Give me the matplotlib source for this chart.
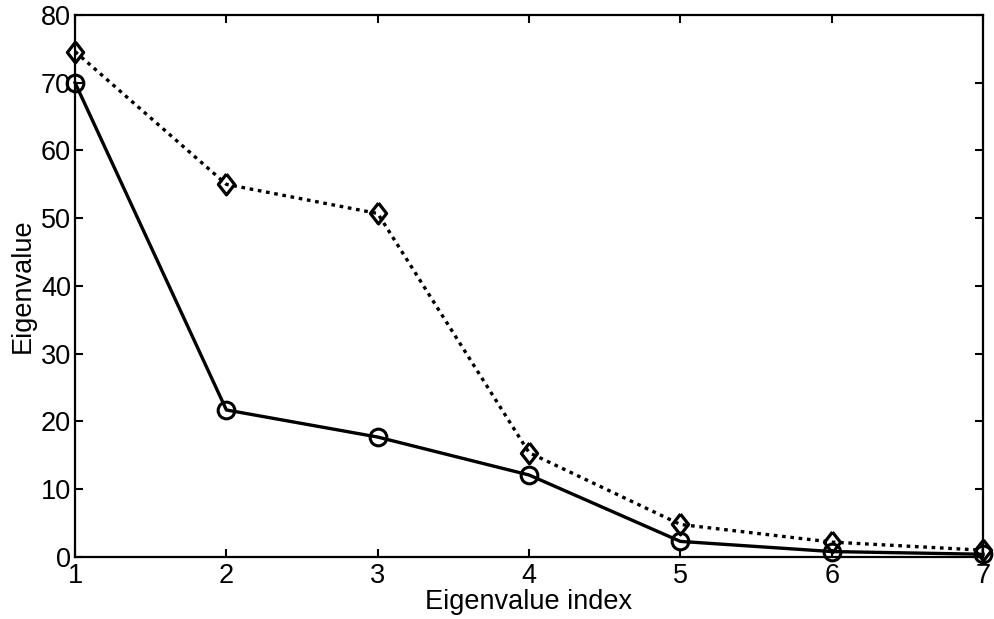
import matplotlib
matplotlib.use('Agg')
import matplotlib.pyplot as plt

plt.rcParams['font.family'] = ['Liberation Sans', 'DejaVu Sans']

# eigenvalue spectra
index = [1, 2, 3, 4, 5, 6, 7]
eig_solid = [70.0, 21.7, 17.7, 12.1, 2.3, 0.8, 0.4]
eig_dotted = [74.6, 55.0, 50.7, 15.4, 4.8, 2.2, 1.0]

# MATLAB-style diamond, a bit taller than wide
diamond = [(0, 1), (0.78, 0), (0, -1), (-0.78, 0), (0, 1)]

fig = plt.figure(figsize=(9.94, 6.19), dpi=100)
ax = fig.add_axes([0.0755, 0.1002, 0.9135, 0.8756])

ax.plot(index, eig_dotted, color='black', linewidth=2.4, linestyle=(0, (1.1, 1.4)),
        marker=diamond, markersize=15, markerfacecolor='none', markeredgewidth=2.3,
        clip_on=False, zorder=3)
ax.plot(index, eig_solid, color='black', linewidth=2.4, linestyle='-',
        marker='o', markersize=12, markerfacecolor='none', markeredgewidth=2.2,
        clip_on=False, zorder=3)

ax.set_xlim(1, 7)
ax.set_ylim(0, 80)
ax.set_xticks(index)
ax.set_yticks(range(0, 81, 10))
ax.tick_params(direction='in', length=5.5, width=1.5, labelsize=19.5,
               top=True, right=True, pad=3)
ax.tick_params(axis='x', pad=4)
for s in ax.spines.values():
    s.set_linewidth(1.6)

ax.set_xlabel('Eigenvalue index', fontsize=19.5, labelpad=0)
ax.set_ylabel('Eigenvalue', fontsize=19.5, labelpad=3.5)

fig.savefig('out.png', dpi=100)
